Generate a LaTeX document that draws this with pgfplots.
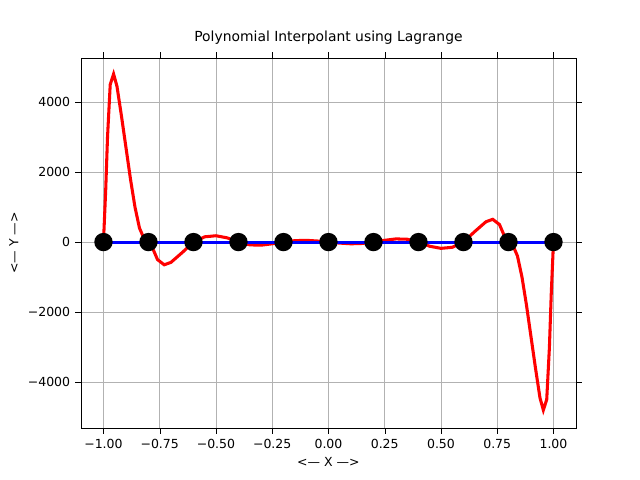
\documentclass[border=0pt]{standalone}
\usepackage{pgfplots}
\pgfplotsset{compat=1.18}
\usepackage{fontspec}
\setmainfont{DejaVu Sans}
\begin{document}
\begin{tikzpicture}
\path[use as bounding box] (-58.3pt,-37.4pt) rectangle (402.5pt,308.2pt);
\begin{axis}[scale only axis, width=356.4pt, height=266.4pt,
  xmin=-1.1, xmax=1.1, ymin=-5314, ymax=5257,
  xtick={-1,-0.75,-0.5,-0.25,0,0.25,0.5,0.75,1},
  xticklabels={$-1.00$,$-0.75$,$-0.50$,$-0.25$,0.00,0.25,0.50,0.75,1.00},
  xticklabels={−1.00,−0.75,−0.50,−0.25,0.00,0.25,0.50,0.75,1.00},
  ytick={-4000,-2000,0,2000,4000},
  yticklabels={−4000,−2000,0,2000,4000},
  scaled y ticks=false,
  grid=major, grid style={gray!60, line width=0.6pt},
  tick align=outside, tick style={black},
  title={Polynomial Interpolant using Lagrange},
  xlabel={<--- X --->}, ylabel={<--- Y --->},
  ticklabel style={font=\small}, label style={font=\small}, title style={font=\normalsize},
]
\addplot[red, line width=2.2pt] coordinates {
(-1,0)(-0.99,1500)(-0.982,3000)(-0.97,4500)(-0.955,4800)(-0.94,4450)(-0.92,3600)(-0.9,2700)(-0.88,1800)(-0.86,1000)(-0.84,400)(-0.82,100)(-0.8,0)(-0.78,-200)(-0.76,-500)(-0.73,-650)(-0.7,-580)(-0.65,-300)(-0.6,0)(-0.55,150)(-0.5,180)(-0.45,120)(-0.4,0)(-0.35,-80)(-0.3,-90)(-0.25,-50)(-0.2,0)(-0.15,40)(-0.1,50)(-0.05,30)(0,0)
(0.05,-30)(0.1,-50)(0.15,-40)(0.2,0)(0.25,50)(0.3,90)(0.35,80)(0.4,0)(0.45,-120)(0.5,-180)(0.55,-150)(0.6,0)(0.65,300)(0.7,580)(0.73,650)(0.76,500)(0.78,200)(0.8,0)(0.82,-100)(0.84,-400)(0.86,-1000)(0.88,-1800)(0.9,-2700)(0.92,-3600)(0.94,-4450)(0.955,-4800)(0.97,-4500)(0.982,-3000)(0.99,-1500)(1,0)};
\addplot[blue, line width=2.2pt, mark=*, mark size=5.5pt, mark options={black, fill=black}] coordinates {
(-1,0)(-0.8,0)(-0.6,0)(-0.4,0)(-0.2,0)(0,0)(0.2,0)(0.4,0)(0.6,0)(0.8,0)(1,0)};
\end{axis}
\end{tikzpicture}
\end{document}
